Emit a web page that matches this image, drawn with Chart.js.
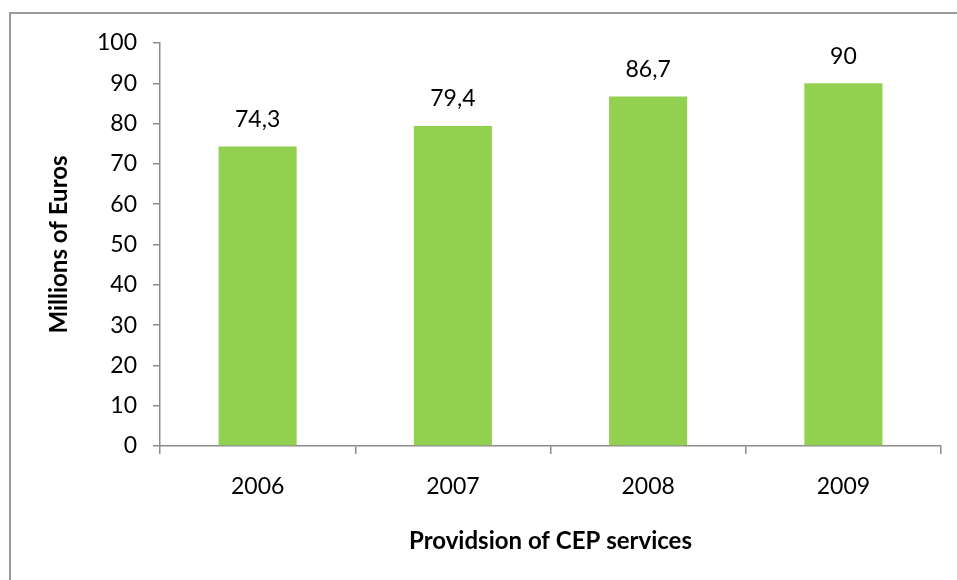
<!DOCTYPE html>
<html>
<head>
<meta charset="utf-8">
<script src="https://cdn.jsdelivr.net/npm/chart.js@4"></script>
<style>
  html, body { margin: 0; padding: 0; background: #fff; }
  #wrap { position: relative; width: 957px; height: 580px; overflow: hidden; }
  #frame {
    position: absolute; left: 9px; top: 12px; width: 1000px; height: 700px;
    border-top: 2px solid #9a9a9a; border-left: 2px solid #9a9a9a;
  }
  canvas { position: absolute; left: 0; top: 0; }
</style>
</head>
<body>
<div id="wrap">
  <div id="frame"></div>
  <canvas id="myChart" width="957" height="580"></canvas>
</div>
<script>
/* globals Chart */

const years = ["2006", "2007", "2008", "2009"];
const revenue = [74.3, 79.4, 86.7, 90];

const FONT = "Lato, 'Open Sans', sans-serif";
const AXIS = "#8c8c8c";

// values on top of each bar, decimal comma
const barValues = {
  id: "barValues",
  afterDatasetsDraw(chart) {
    const ctx = chart.ctx;
    const meta = chart.getDatasetMeta(0);
    ctx.save();
    ctx.font = "23px " + FONT;
    ctx.fillStyle = "#000";
    ctx.textAlign = "center";
    ctx.textBaseline = "middle";
    meta.data.forEach((bar, i) => {
      const txt = String(revenue[i]).replace(".", ",");
      ctx.fillText(txt, bar.x, bar.y - 27);
    });
    ctx.restore();
  },
};

const ctx = document.getElementById("myChart").getContext("2d");

/* exported myChart */
const myChart = new Chart(ctx, {
  type: "bar",
  plugins: [barValues],
  data: {
    labels: years,
    datasets: [
      {
        data: revenue,
        backgroundColor: "#92d050",
        barPercentage: 0.4,
        categoryPercentage: 1,
      },
    ],
  },
  options: {
    responsive: false,
    animation: false,
    events: [],
    layout: {
      padding: { top: 43, right: 16, bottom: 0, left: 0 },
    },
    plugins: {
      legend: { display: false },
      title: { display: false },
      tooltip: { enabled: false },
    },
    scales: {
      x: {
        afterFit(scale) {
          scale.height = 134;
        },
        grid: {
          drawOnChartArea: false,
          offset: true,
          color: AXIS,
          lineWidth: 1.5,
          tickLength: 8,
        },
        border: { color: AXIS, width: 1.5 },
        ticks: {
          color: "#000",
          padding: 19,
          font: { family: FONT, size: 23 },
        },
        title: {
          display: true,
          text: "Providsion of CEP services",
          color: "#000",
          font: { family: FONT, size: 24, weight: "bold" },
          padding: { top: 0, bottom: 24 },
        },
      },
      y: {
        min: 0,
        max: 100,
        afterFit(scale) {
          scale.width = 160;
        },
        grid: {
          drawOnChartArea: false,
          color: AXIS,
          lineWidth: 1.5,
          tickLength: 7,
        },
        border: { color: AXIS, width: 1.5 },
        ticks: {
          stepSize: 10,
          color: "#000",
          padding: 16,
          font: { family: FONT, size: 23 },
        },
        title: {
          display: true,
          text: "Millions of Euros",
          color: "#000",
          font: { family: FONT, size: 24, weight: "bold" },
          padding: { top: 45, bottom: 0 },
        },
      },
    },
  },
});
</script>
</body>
</html>
